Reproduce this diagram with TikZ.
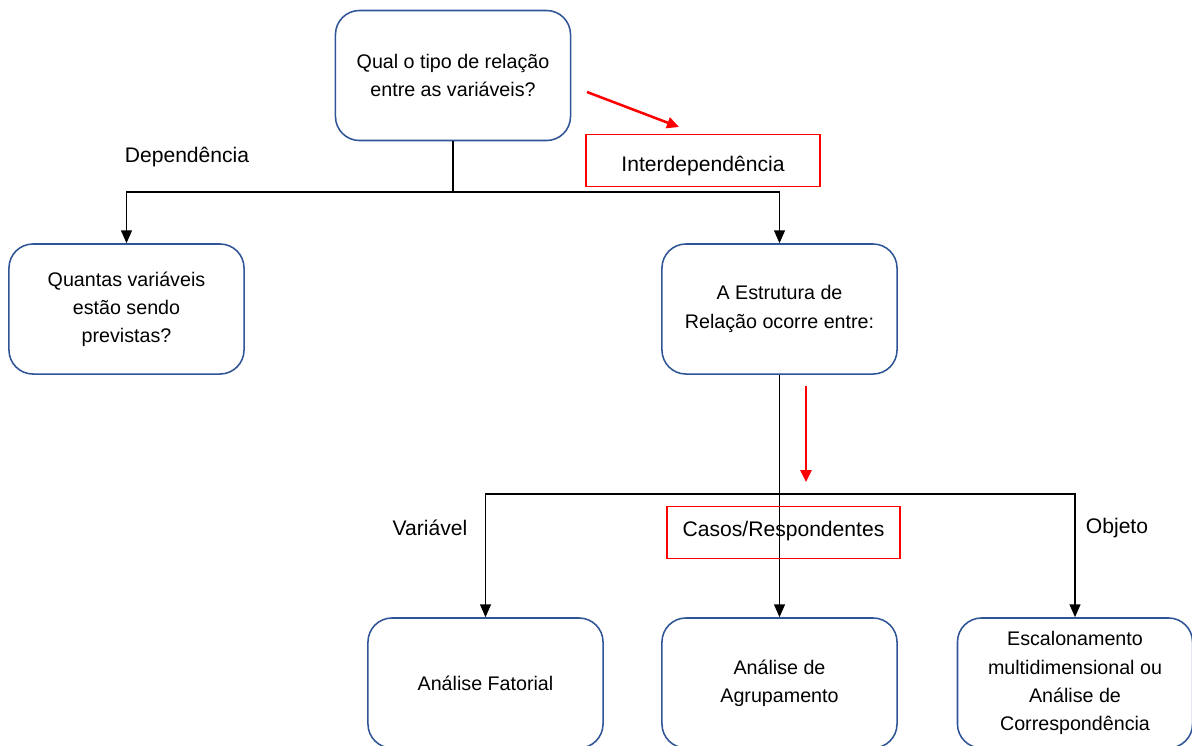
\documentclass[tikz,border=0pt]{standalone}
\usepackage{fontspec}
\setmainfont{Liberation Sans}
\usepackage{tikz}
\usetikzlibrary{positioning}
\usetikzlibrary{arrows.meta}

\definecolor{boxblue}{HTML}{2F5597}

\tikzset{
	decision/.style={draw=boxblue, line width=1.1pt, rounded corners=0.6cm, fill=white,
		minimum width=5.875cm, minimum height=3.25cm, align=center,
		font=\fontsize{14}{20}\selectfont},
	branch/.style={font=\fontsize{15}{18}\selectfont},
	chosen/.style={draw=red, line width=1.3pt, minimum width=5.83cm, minimum height=1.3cm,
		font=\fontsize{15}{18}\selectfont},
	link/.style={black, line width=1.1pt},
	linkarrow/.style={link, -{Triangle[length=0.32cm,width=0.27cm]}},
	hint/.style={red, line width=1.8pt, -{Triangle[length=0.3cm,width=0.28cm]}}
}

\begin{document}
\begin{tikzpicture}[x=0.025cm, y=-0.025cm]

	\clip (0,0) rectangle (1192,745);

	%Questions
	\node[decision] (Tipo) at (453,75.5) {Qual o tipo de relação\\entre as variáveis?};
	\node[decision] (Quantas) at (126.5,309) {Quantas variáveis\\estão sendo\\previstas?};
	\node[decision] (Estrutura) at (779.5,309) {A Estrutura de\\Relação ocorre entre:};

	%Methods
	\node[decision] (Fatorial) at (485.5,683) {Análise Fatorial};
	\node[decision] (Agrup) at (779.5,683) {Análise de\\Agrupamento};
	\node[decision] (Escal) at (1075,683) {Escalonamento\\multidimensional ou\\Análise de\\Correspondência};

	%Junctions
	\coordinate (J1) at (453,192);
	\coordinate (J2) at (779.5,494);

	%Tree
	\draw[link] (Tipo.south) -- (J1);
	\draw[linkarrow] (J1) -| (Quantas.north);
	\draw[linkarrow] (J1) -| (Estrutura.north);
	\draw[link] (Estrutura.south) -- (J2);
	\draw[linkarrow] (J2) -| (Fatorial.north);
	\draw[linkarrow] (J2) -- (Agrup.north);
	\draw[linkarrow] (J2) -| (Escal.north);

	%Branch labels
	\node[branch] (Dep) at (187,157) {Dependência};
	\node[chosen, text height=0.62cm, text depth=0.06cm] (Inter) at (703,160.5) {Interdependência};
	\node[branch] (Var) at (430,528) {Variável};
	\node[chosen, text height=0.38cm, text depth=0.2cm] (Casos) at (783.5,532.5) {Casos/Respondentes};
	\node[branch] (Obj) at (1117,528) {Objeto};

	%Red pointers
	\coordinate (P1) at (587,92);
	\coordinate (P2) at (679,127);
	\coordinate (P3) at (806,386);
	\coordinate (P4) at (806,482);
	\draw[hint] (P1) -- (P2);
	\draw[hint] (P3) -- (P4);

\end{tikzpicture}
\end{document}
